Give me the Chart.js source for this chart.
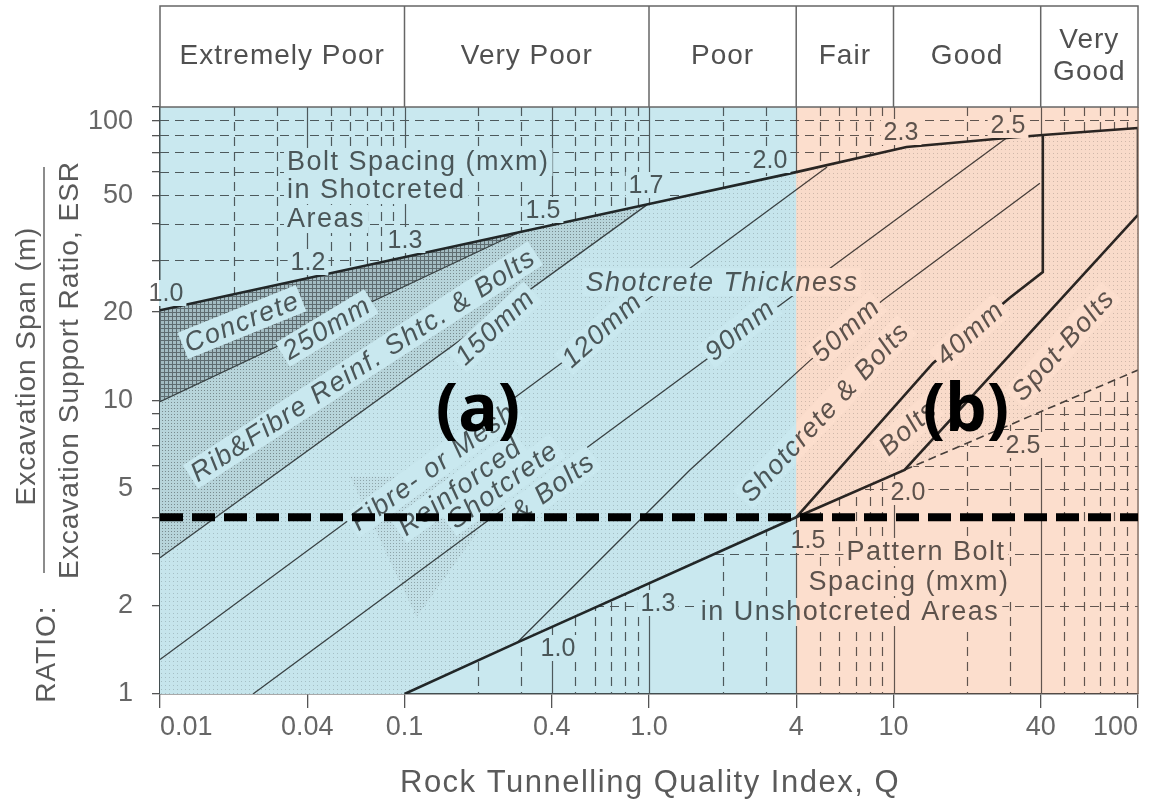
<!DOCTYPE html>
<html>
<head>
<meta charset="utf-8">
<script src="https://cdn.jsdelivr.net/npm/chart.js@4.4.1/dist/chart.umd.min.js"></script>
<style>
  html, body { margin: 0; padding: 0; background: #fff; }
  #wrap { width: 1152px; height: 805px; position: relative; }
</style>
</head>
<body>
<div id="wrap"><canvas id="qChart"></canvas></div>
<script>
// ===============================
// Q-SYSTEM SUPPORT CHART
// ===============================

// ---------- ROCK MASS CLASSES (header band) ----------
const qClassEdges = [0.01, 0.1, 1, 4, 10, 40, 100];
const qClassNames = ["Extremely Poor", "Very Poor", "Poor", "Fair", "Good", "Very\nGood"];

// ---------- AXIS TICKS ----------
const qTicks = [0.01, 0.04, 0.1, 0.4, 1, 4, 10, 40, 100];
const qTickLabels = ["0.01", "0.04", "0.1", "0.4", "1.0", "4", "10", "40", "100"];
const ratioTicks = [1, 2, 3, 4, 5, 6, 7, 8, 9, 10, 20, 30, 40, 50, 60, 70, 80, 90, 100];
const ratioLabelled = [1, 2, 5, 10, 20, 50, 100];

// bolt spacing mesh (dashed)
const qGrid = [0.02, 0.03, 0.04, 0.05, 0.06, 0.07, 0.08, 0.09, 0.1, 0.2, 0.3, 0.4, 0.5, 0.6, 0.7, 0.8, 0.9,
               1, 2, 3, 4, 5, 6, 7, 8, 9, 10, 20, 30, 40, 50, 60, 70, 80, 90];
const ratioGrid = [2, 3, 5, 6, 7, 8, 9, 10, 20, 30, 40, 50, 60, 70, 80, 90];

// ---------- ZONE BOUNDARIES (Q, span/ESR) ----------
const upperQ = [0.01, 1, 4, 11.3, 29, 40.8, 100];
const upperR = [20.3, 46.7, 60, 73.1, 78.4, 80.3, 84.8];

const lowerQ = [0.1, 0.29, 4];
const lowerR = [1, 1.5, 4];

const boltEdgeQ = [100, 100, 11.1, 4];
const boltEdgeR = [84.8, 42.9, 5.8, 4];

const shotEdgeQ = [40.8, 40.8, 29.9, 14.5, 4];
const shotEdgeR = [80.3, 27.4, 22.4, 13.4, 4];

const spotEdgeQ = [11.1, 100];
const spotEdgeR = [5.8, 12.7];

// ---------- SHOTCRETE THICKNESS LINES ----------
const t250Q = [0.01, 0.296];
const t250R = [9.9, 37.5];
const t150Q = [0.01, 0.98];
const t150R = [2.91, 46.4];
const t120Q = [0.01, 5.35];
const t120R = [1.31, 62.5];
const t90Q = [0.024, 29];
const t90R = [1, 78.4];
const t50Q = [0.29, 1.47, 4.56, 9.06, 39.7];
const t50R = [1.5, 5.8, 13.7, 22.0, 55];

// mesh symbol under the fibre/mesh label
const meshQ = [0.06, 0.288, 0.112];
const meshR = [5.5, 5.5, 1.83];

// highlighted span/ESR level
const markQ = [0.01, 100];
const markR = [4, 4];

// shading of the two halves
const toneEdges = [0.01, 4, 100];
const toneColors = ["#c9e8ef", "#fcdecd"];

// ---------- TEXT ----------
const FONT = "'Liberation Sans', Arial, sans-serif";

const plainNotes = [
  ["Bolt Spacing (mxm)", 287, 162, 27, "left"],
  ["in Shotcreted", 287, 190, 27, "left"],
  ["Areas", 287, 219, 27, "left"],
  ["Pattern Bolt", 926, 552, 27, "center"],
  ["Spacing (mxm)", 909, 582, 27, "center"],
  ["in Unshotcreted Areas", 850, 612, 27, "center"],
  ["1.0", 166, 293, 25, "center"],
  ["1.2", 308, 262, 25, "center"],
  ["1.3", 405, 240, 25, "center"],
  ["1.5", 543, 210, 25, "center"],
  ["1.7", 646, 185, 25, "center"],
  ["2.0", 770, 160, 25, "center"],
  ["2.3", 901, 132, 25, "center"],
  ["2.5", 1008, 125, 25, "center"],
  ["1.0", 558, 648, 25, "center"],
  ["1.3", 658, 603, 25, "center"],
  ["1.5", 808, 540, 25, "center"],
  ["2.0", 908, 492, 25, "center"],
  ["2.5", 1023, 445, 25, "center"]
];

const slantNotes = [
  ["Concrete", 242, 322, -22],
  ["250mm", 327, 328, -31],
  ["Rib&Fibre Reinf. Shtc. & Bolts", 363, 365, -33],
  ["150mm", 495, 327, -43],
  ["120mm", 602, 330, -42],
  ["Shotcrete Thickness", 722, 282, 0],
  ["90mm", 740, 330, -39],
  ["50mm", 846, 330, -42],
  ["Shotcrete & Bolts", 825, 412, -47],
  ["40mm", 970, 333, -42],
  ["Bolts", 908, 428, -42],
  ["Spot-Bolts", 1063, 345, -48],
  ["Fibre- or Mesh", 433, 467, -36],
  ["Reinforced", 460, 487, -36],
  ["Shotcrete", 503, 485, -36],
  ["& Bolts", 553, 487, -36]
];

const bigNotes = [["(a)", 478, 412], ["(b)", 966, 412]];

// ---------- HELPERS ----------
const xy = (qs, rs) => qs.map((q, i) => ({ x: q, y: rs[i] }));
const rev = a => a.slice().reverse();
const qMin = qTicks[0], qMax = qTicks[qTicks.length - 1];
const rMin = ratioTicks[0], rMax = ratioTicks[ratioTicks.length - 1];

function tile(size, bg, ink, marks) {
  const c = document.createElement("canvas");
  c.width = c.height = size;
  const g = c.getContext("2d");
  g.fillStyle = bg;
  g.fillRect(0, 0, size, size);
  g.fillStyle = ink;
  marks.forEach(([x, y, w, h]) => g.fillRect(x, y, w, h));
  return g.createPattern(c, "repeat");
}

const concreteFill = tile(4, "#cfcfcf", "#777777", [[0, 0, 4, 1], [0, 0, 1, 4]]);
const ribFill = tile(3, "#e9e9e9", "#999999", [[0, 0, 1, 1]]);
const meshFill = tile(3, "#f6f6f6", "#b4b4b4", [[0, 0, 1, 1]]);
const dotFill = tile(4, "#fcfcfc", "#d2d2d2", [[1, 1, 1, 1]]);

// regions built from the boundaries
const supportedZone = xy(
  upperQ.concat([spotEdgeQ[1], spotEdgeQ[0]], rev(lowerQ), [qMin]),
  upperR.concat([spotEdgeR[1], spotEdgeR[0]], rev(lowerR), [rMin])
);
const concreteZone = xy([t250Q[0], upperQ[0], t250Q[1]], [t250R[0], upperR[0], t250R[1]]);
const ribZone = xy([t150Q[0], t250Q[0], t250Q[1], t150Q[1]], [t150R[0], t250R[0], t250R[1], t150R[1]]);
const upperMesh = [[qMin].concat(upperQ, [qMax]), [rMax].concat(upperR, [rMax])];
const lowerMesh = [lowerQ.concat(spotEdgeQ, [qMax]), lowerR.concat(spotEdgeR, [rMin])];

// lower order = drawn later (on top)
const zone = (data, bg, order) => ({
  data, showLine: true, fill: "shape", backgroundColor: bg,
  borderColor: "rgba(0,0,0,0)", borderWidth: 1, pointRadius: 0, order
});
const thin = data => ({
  data, showLine: true, fill: false, borderColor: "#474747", borderWidth: 1.3, pointRadius: 0, order: 20
});
const thick = data => ({
  data, showLine: true, fill: false, borderColor: "#2a2a2a", borderWidth: 2.6, pointRadius: 0, order: 10
});

const datasets = [
  zone(supportedZone, dotFill, 60),
  zone(ribZone, ribFill, 55),
  zone(concreteZone, concreteFill, 52),
  zone(xy(meshQ, meshR), meshFill, 52),
  thin(xy(t250Q, t250R)),
  thin(xy(t150Q, t150R)),
  thin(xy(t120Q, t120R)),
  thin(xy(t90Q, t90R)),
  thin(xy(t50Q, t50R)),
  Object.assign(thin(xy(spotEdgeQ, spotEdgeR)), { borderDash: [8, 5], borderWidth: 1.6 }),
  thick(xy(upperQ, upperR)),
  thick(xy(lowerQ, lowerR)),
  thick(xy(boltEdgeQ, boltEdgeR)),
  thick(xy(shotEdgeQ, shotEdgeR)),
  { data: xy(markQ, markR), showLine: true, fill: false, borderColor: "#000", borderWidth: 8,
    borderDash: [23, 9], pointRadius: 0, order: 1 }
];
const markIndex = datasets.length - 1;

// ---------- DRAWING ----------
function polyPath(ctx, chart, qs, rs) {
  const { x, y } = chart.scales;
  ctx.beginPath();
  qs.forEach((q, i) => {
    const px = x.getPixelForValue(q), py = y.getPixelForValue(rs[i]);
    if (i) ctx.lineTo(px, py); else ctx.moveTo(px, py);
  });
  ctx.closePath();
}

function drawMesh(chart, region) {
  const { ctx, chartArea: a, scales: { x, y } } = chart;
  ctx.save();
  polyPath(ctx, chart, region[0], region[1]);
  ctx.clip();
  ctx.strokeStyle = "#626262";
  ctx.lineWidth = 1.2;
  qGrid.forEach(q => {
    const px = Math.round(x.getPixelForValue(q)) + 0.5;
    ctx.setLineDash(qTicks.includes(q) ? [] : [9, 6]);
    ctx.beginPath(); ctx.moveTo(px, a.top); ctx.lineTo(px, a.bottom); ctx.stroke();
  });
  ctx.setLineDash([9, 6]);
  ratioGrid.forEach(r => {
    const py = Math.round(y.getPixelForValue(r)) + 0.5;
    ctx.beginPath(); ctx.moveTo(a.left, py); ctx.lineTo(a.right, py); ctx.stroke();
  });
  ctx.restore();
}

function note(ctx, text, px, py, size, opts) {
  ctx.save();
  ctx.translate(px, py);
  ctx.rotate((opts.rot || 0) * Math.PI / 180);
  ctx.font = (opts.italic ? "italic " : "") + size + "px " + FONT;
  ctx.letterSpacing = opts.spacing || "0px";
  ctx.textBaseline = "middle";
  ctx.textAlign = opts.align || "center";
  const w = ctx.measureText(text).width;
  const x0 = ctx.textAlign === "left" ? 0 : -w / 2;
  ctx.fillStyle = "#fff";
  ctx.fillRect(x0 - 3, -size * 0.52, w + 6, size * 1.04);
  ctx.fillStyle = "#5e5e5e";
  ctx.fillText(text, 0, 1);
  ctx.restore();
}

const qPlugin = {
  id: "qSystem",
  beforeDatasetsDraw(chart) {
    drawMesh(chart, upperMesh);
    drawMesh(chart, lowerMesh);
  },
  beforeDatasetDraw(chart, args) {
    if (args.index !== markIndex) return;
    const { ctx, chartArea: a, scales: { x } } = chart;
    plainNotes.forEach(([t, px, py, s, al]) =>
      note(ctx, t, px, py, s, { align: al, spacing: s > 26 ? "1.5px" : "0px" }));
    slantNotes.forEach(([t, px, py, rot]) =>
      note(ctx, t, px, py, 27, { rot, italic: true, spacing: "1.5px" }));

    // right frame edge
    ctx.save();
    ctx.strokeStyle = "#777";
    ctx.lineWidth = 1.3;
    ctx.beginPath(); ctx.moveTo(a.right, a.top); ctx.lineTo(a.right, a.bottom); ctx.stroke();

    // colour wash over the monochrome drawing
    ctx.beginPath();
    ctx.rect(a.left - 1, a.top, a.right - a.left + 2, a.bottom - a.top);
    ctx.clip();
    ctx.globalCompositeOperation = "multiply";
    toneColors.forEach((c, i) => {
      const x0 = x.getPixelForValue(toneEdges[i]), x1 = x.getPixelForValue(toneEdges[i + 1]);
      ctx.fillStyle = c;
      ctx.fillRect(i ? x0 : x0 - 2, a.top, x1 - x0 + 2, a.bottom - a.top);
    });
    ctx.restore();
  },
  afterDatasetsDraw(chart) {
    const ctx = chart.ctx;
    ctx.save();
    ctx.font = "bold 66px 'Noto Sans', 'Open Sans', sans-serif";
    ctx.fillStyle = "#000";
    ctx.textAlign = "center";
    ctx.textBaseline = "middle";
    bigNotes.forEach(([t, px, py]) => ctx.fillText(t, px, py));
    ctx.restore();
  },
  afterDraw(chart) {
    const { ctx, chartArea: a, scales: { x, y } } = chart;
    const top = 6;
    ctx.save();
    // ---- header band ----
    ctx.fillStyle = "#fff";
    ctx.fillRect(a.left, top, a.right - a.left, a.top - top);
    ctx.strokeStyle = "#666";
    ctx.lineWidth = 1.5;
    ctx.strokeRect(a.left, top, a.right - a.left, a.top - top);
    ctx.font = "28px " + FONT;
    ctx.letterSpacing = "1px";
    ctx.fillStyle = "#505050";
    ctx.textAlign = "center";
    ctx.textBaseline = "middle";
    qClassNames.forEach((name, i) => {
      const x0 = x.getPixelForValue(qClassEdges[i]), x1 = x.getPixelForValue(qClassEdges[i + 1]);
      if (i) { ctx.beginPath(); ctx.moveTo(x0, top); ctx.lineTo(x0, a.top); ctx.stroke(); }
      const lines = name.split("\n");
      lines.forEach((ln, k) => {
        const cy = (top + a.top) / 2 + (k - (lines.length - 1) / 2) * 32;
        ctx.fillText(ln, (x0 + x1) / 2, cy);
      });
    });

    // ---- top y label (sits below the frame corner) ----
    ctx.font = "27px " + FONT;
    ctx.letterSpacing = "0px";
    ctx.fillStyle = "#666";
    ctx.textAlign = "right";
    ctx.fillText("100", a.left - 27, y.getPixelForValue(100) + 15);

    // ---- axis titles ----
    ctx.fillStyle = "#5a5a5a";
    ctx.textAlign = "center";
    ctx.font = "31px " + FONT;
    ctx.letterSpacing = "1.5px";
    ctx.fillText("Rock Tunnelling Quality Index, Q", 650, 783);

    ctx.font = "28px " + FONT;
    ctx.letterSpacing = "1px";
    [["Excavation Span (m)", 27, 366], ["Excavation Support Ratio, ESR", 70, 370], ["RATIO:", 47, 654]]
      .forEach(([t, px, py]) => {
        ctx.save();
        ctx.translate(px, py);
        ctx.rotate(-Math.PI / 2);
        ctx.fillText(t, 0, 0);
        ctx.restore();
      });
    ctx.strokeStyle = "#666";
    ctx.lineWidth = 1.5;
    ctx.beginPath(); ctx.moveTo(44, 167); ctx.lineTo(44, 573); ctx.stroke();
    ctx.restore();
  }
};

// ---------- CHART ----------
new Chart(document.getElementById("qChart"), {
  type: "scatter",
  data: { datasets },
  options: {
    responsive: true,
    maintainAspectRatio: false,
    animation: false,
    events: [],
    layout: { padding: { left: 0, right: 14, top: 107, bottom: 0 } },
    plugins: { legend: { display: false }, tooltip: { enabled: false } },
    elements: { line: { tension: 0 }, point: { radius: 0 } },
    scales: {
      x: {
        type: "logarithmic",
        min: qMin,
        max: qMax,
        afterBuildTicks: s => { s.ticks = qTicks.map(v => ({ value: v })); },
        afterFit: s => { s.height = 111; s.paddingLeft = 0; s.paddingRight = 0; },
        ticks: {
          callback: (v, i) => qTickLabels[i],
          font: { family: FONT, size: 27 },
          color: "#666",
          padding: 3,
          maxRotation: 0,
          autoSkip: false,
          align: "inner"
        },
        grid: { drawOnChartArea: false, tickLength: 14, color: "#555", lineWidth: 1.3 },
        border: { display: true, color: "#555", width: 1.5 }
      },
      y: {
        type: "logarithmic",
        min: rMin,
        max: rMax,
        afterBuildTicks: s => { s.ticks = ratioTicks.map(v => ({ value: v })); },
        afterFit: s => { s.width = 160; s.paddingTop = 0; s.paddingBottom = 0; },
        ticks: {
          callback: v => (ratioLabelled.includes(v) && v !== rMax ? String(v) : ""),
          font: { family: FONT, size: 27 },
          color: "#666",
          padding: 19,
          autoSkip: false
        },
        grid: { drawOnChartArea: false, tickLength: 8, color: "#555", lineWidth: 1.3 },
        border: { display: true, color: "#555", width: 1.5 }
      }
    }
  },
  plugins: [qPlugin]
});
</script>
</body>
</html>
